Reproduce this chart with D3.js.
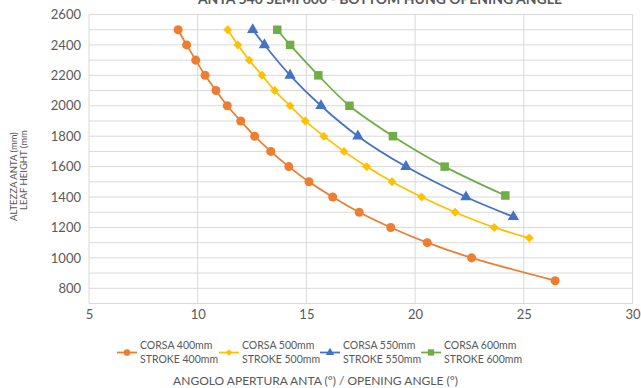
<!DOCTYPE html>
<html><head><meta charset="utf-8">
<script src="https://cdn.jsdelivr.net/npm/d3@7"></script>
<style>body{margin:0;background:#fff}svg{display:block}text{font-family:Lato,"Open Sans",sans-serif;fill:#595959}</style>
</head><body><svg id="c" width="641" height="388"></svg>
<script>
const heights = [2500,2400,2300,2200,2100,2000,1900,1800,1700,1600,1500,1400,1300,1200,1100,1000,850];
const angles400 = [9.10,9.49,9.91,10.34,10.84,11.36,11.98,12.62,13.36,14.19,15.12,16.21,17.43,18.88,20.56,22.60,26.44];
const heights500 = [2500,2400,2300,2200,2100,2000,1900,1800,1700,1600,1500,1400,1300,1200,1130];
const angles500 = [11.38,11.85,12.37,12.96,13.54,14.25,14.95,15.80,16.73,17.77,18.94,20.30,21.84,23.64,25.25];
const heights550 = [2500,2400,2200,2000,1800,1600,1400,1270];
const angles550 = [12.53,13.07,14.25,15.67,17.37,19.58,22.34,24.52];
const heights600 = [2500,2400,2200,2000,1800,1600,1410];
const angles600 = [13.66,14.25,15.55,16.98,18.98,21.36,24.15];
const seriesNames = [["CORSA 400mm","STROKE 400mm"],["CORSA 500mm","STROKE 500mm"],["CORSA 550mm","STROKE 550mm"],["CORSA 600mm","STROKE 600mm"]];
const colors = ["#ED7D31","#FFC000","#4472C4","#70AD47"];
const xTicks = [5,10,15,20,25,30];
const yTicks = [800,1000,1200,1400,1600,1800,2000,2200,2400,2600];
const yGrid = d3.range(800,2601,100);
const title = "ANTA 540 SEMI 600 - BOTTOM HUNG OPENING ANGLE";
const xTitle = "ANGOLO APERTURA ANTA (°) / OPENING ANGLE (°)";
const yTitle = ["ALTEZZA ANTA  (mm)","LEAF HEIGHT (mm"];

const series = [
  {x:angles400,y:heights,sym:d3.symbolCircle,rot:0},
  {x:angles500,y:heights500,sym:d3.symbolSquare,rot:45},
  {x:angles550,y:heights550,sym:d3.symbolTriangle,rot:0},
  {x:angles600,y:heights600,sym:d3.symbolSquare,rot:0}
];
const symSize = [64,40,56,72];

const svg = d3.select("#c");
const x = d3.scaleLinear().domain([5,30]).range([89,632.5]);
const y = d3.scaleLinear().domain([700,2600]).range([303.5,14.5]);

svg.append("g").selectAll("line").data(yGrid).join("line")
  .attr("x1",x(5)).attr("x2",x(30)).attr("y1",d=>y(d)).attr("y2",d=>y(d))
  .attr("stroke","#D9D9D9").attr("stroke-width",1);
svg.append("g").selectAll("line").data(xTicks).join("line")
  .attr("x1",d=>x(d)).attr("x2",d=>x(d)).attr("y1",y(700)).attr("y2",y(2600))
  .attr("stroke","#D9D9D9").attr("stroke-width",1);
svg.append("line").attr("x1",x(5)).attr("x2",x(30)).attr("y1",y(700)).attr("y2",y(700)).attr("stroke","#D9D9D9");

const yAxis = d3.axisLeft(y).tickValues(yTicks).tickSize(0).tickPadding(8).tickFormat(d3.format("d"));
const gy = svg.append("g").attr("transform",`translate(${x(5)},0)`).call(yAxis);
gy.select(".domain").remove();
gy.selectAll("text").attr("font-size",13).style("font-family","Lato,sans-serif").attr("fill","#595959");
const xAxis = d3.axisBottom(x).tickValues(xTicks).tickSize(0).tickPadding(6).tickFormat(d3.format("d"));
const gx = svg.append("g").attr("transform",`translate(0,${y(700)})`).call(xAxis);
gx.select(".domain").remove();
gx.selectAll("text").attr("font-size",13).style("font-family","Lato,sans-serif").attr("fill","#595959");

const line = d3.line().curve(d3.curveCatmullRom.alpha(0.5));
series.forEach((s,i)=>{
  const pts = s.x.map((v,j)=>[x(v),y(s.y[j])]);
  svg.append("path").attr("d",line(pts)).attr("fill","none").attr("stroke",colors[i]).attr("stroke-width",1.75);
  svg.append("g").selectAll("path").data(pts).join("path")
    .attr("transform",d=>`translate(${d[0]},${d[1]}) rotate(${s.rot})`)
    .attr("d",d3.symbol().type(s.sym).size(symSize[i])).attr("fill",colors[i]);
});

svg.append("text").attr("x",380).attr("y",4).attr("text-anchor","middle").attr("font-size",14).attr("font-weight","bold").text(title);

svg.append("text").attr("transform","translate(16.5,176.5) rotate(-90)").attr("text-anchor","middle").attr("font-size",9.5).text(yTitle[0]);
svg.append("text").attr("transform","translate(27,170) rotate(-90)").attr("text-anchor","middle").attr("font-size",9.5).text(yTitle[1]);

svg.append("text").attr("x",315.5).attr("y",385).attr("text-anchor","middle").attr("font-size",12).text(xTitle);

const legX = [117,219,320,421];
seriesNames.forEach((n,i)=>{
  const g = svg.append("g").attr("transform",`translate(${legX[i]},0)`);
  g.append("line").attr("x1",0).attr("x2",20).attr("y1",352.5).attr("y2",352.5).attr("stroke",colors[i]).attr("stroke-width",1.75);
  g.append("path").attr("transform",`translate(10,352.5) rotate(${series[i].rot})`).attr("d",d3.symbol().type(series[i].sym).size(symSize[i]*0.55)).attr("fill",colors[i]);
  g.append("text").attr("x",23).attr("y",349).attr("font-size",10.5).text(n[0]);
  g.append("text").attr("x",23).attr("y",363).attr("font-size",10.5).text(n[1]);
});
</script></body></html>
